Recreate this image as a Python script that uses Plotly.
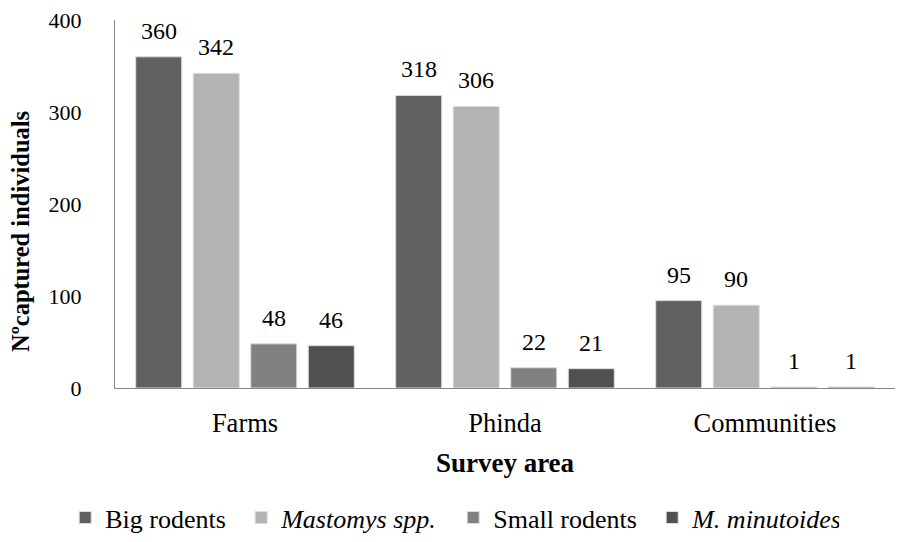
import plotly.graph_objects as go

areas = ["Farms", "Phinda", "Communities"]
series_names = ["Big rodents", "<i>Mastomys spp.</i>", "Small rodents", "<i>M. minutoides</i>"]
big_rodents = [360, 318, 95]
mastomys = [342, 306, 90]
small_rodents = [48, 22, 1]
minutoides = [46, 21, 1]
colors = ["#606060", "#b3b3b3", "#808080", "#505050"]
legend_widths = [131, 167, 154, 142]

FONT = "Liberation Serif"
W, H = 899, 542
ML, MR, MT, MB = 115, 4, 20, 154
BARGAP, GROUPGAP = 0.115, 0.2

all_series = [big_rodents, mastomys, small_rodents, minutoides]

fig = go.Figure()
for name, vals, col, lw in zip(series_names, all_series, colors, legend_widths):
    fig.add_trace(go.Bar(
        x=areas, y=vals, name=name, legendwidth=lw,
        marker=dict(color=col, line=dict(color="#dcdcdc", width=1)),
        hoverinfo="x+y+name",
    ))

# value labels above each bar, offset horizontally to the bar's slot in its group
plot_w = W - ML - MR
cat_w = plot_w / len(areas)
slot_w = cat_w * (1 - BARGAP) / len(all_series)
for i, vals in enumerate(all_series):
    dx = (i - (len(all_series) - 1) / 2) * slot_w
    for area, v in zip(areas, vals):
        fig.add_annotation(
            x=area, y=v, text=str(v), showarrow=False,
            xshift=dx, yshift=11, yanchor="bottom",
            font=dict(family=FONT, size=24, color="black"),
        )

# y-axis title
fig.add_annotation(
    text="<b>Nºcaptured individuals</b>", textangle=-90,
    xref="paper", yref="paper", x=-(ML - 20) / plot_w, y=(388 - 232) / (H - MT - MB),
    xanchor="center", yanchor="middle", showarrow=False,
    font=dict(family=FONT, size=24.5, color="black"),
)

fig.update_layout(
    width=W, height=H,
    paper_bgcolor="white", plot_bgcolor="white",
    margin=dict(l=ML, r=MR, t=MT, b=MB, autoexpand=False),
    barmode="group", bargap=BARGAP, bargroupgap=GROUPGAP,
    font=dict(family=FONT, size=26, color="black"),
    showlegend=True,
    legend=dict(orientation="h", xref="container", x=0.503, xanchor="center",
                yref="container", y=0.045, yanchor="middle",
                font=dict(family=FONT, size=26, color="black"),
                itemwidth=30, traceorder="normal"),
    xaxis=dict(
        showline=True, linecolor="#868686", linewidth=1, automargin=False,
        ticks="", tickfont=dict(family=FONT, size=26.5), ticklabelstandoff=11,
        title=dict(text="<b>Survey area</b>", font=dict(family=FONT, size=27), standoff=16),
    ),
    yaxis=dict(
        range=[0, 400], dtick=100, showgrid=False, zeroline=False, automargin=False,
        showline=True, linecolor="#868686", linewidth=1,
        ticks="", tickfont=dict(family=FONT, size=22), ticklabelstandoff=28,
    ),
)

fig.write_html("out.html")
